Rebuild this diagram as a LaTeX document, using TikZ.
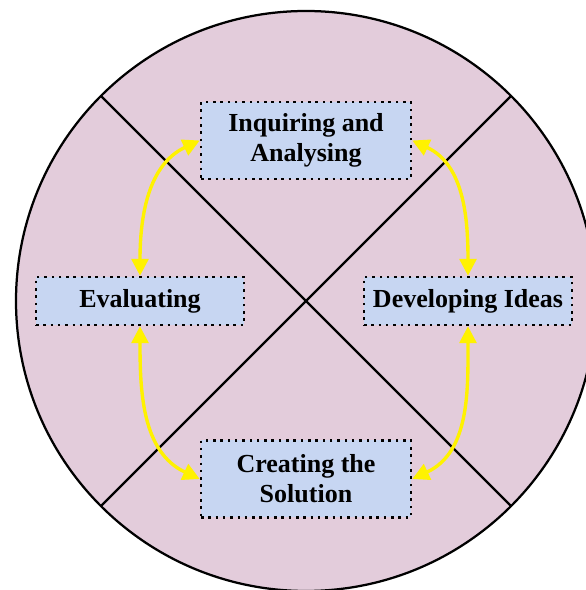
\documentclass[tikz,border=0pt]{standalone}
\usepackage{fontspec}
\setmainfont{Liberation Serif}
\usetikzlibrary{arrows.meta,calc}

\definecolor{wheelpink}{RGB}{227,204,219}
\definecolor{stageblue}{RGB}{199,214,242}

\tikzset{
  stage/.style={draw, fill=stageblue, line width=1.8pt,
    dash pattern=on 1.8pt off 3.4pt, align=center,
    font=\fontsize{18.5}{21.5}\selectfont\bfseries},
  cycle/.style={draw=yellow, line width=2.4pt,
    {Triangle[length=12pt,width=12pt]}-{Triangle[length=12pt,width=12pt]}},
  spoke/.style={line width=1.6pt}
}

\begin{document}
\begin{tikzpicture}
\useasboundingbox (0,0) rectangle (14.625,14.75);
\coordinate (ctr) at (7.65,7.225);
\fill[wheelpink] (ctr) circle (7.25);
\draw[spoke] (ctr) circle (7.25);
\draw[spoke] ($(ctr)+(135:7.25)$) -- ($(ctr)+(-45:7.25)$);
\draw[spoke] ($(ctr)+(45:7.25)$) -- ($(ctr)+(-135:7.25)$);

\node[stage, minimum width=5.25cm, minimum height=1.925cm] (inq) at (7.65,11.2375) {Inquiring and\\Analysing};
\node[stage, minimum width=5.2cm, minimum height=1.2cm] (eval) at (3.5,7.225) {Evaluating};
\node[stage, minimum width=5.2cm, minimum height=1.2cm] (dev) at (11.7,7.225) {Developing Ideas};
\node[stage, minimum width=5.25cm, minimum height=1.925cm] (crea) at (7.65,2.775) {Creating the\\Solution};

\draw[cycle] (inq.west) to[out=-155, in=90] (eval.north);
\draw[cycle] (inq.east) to[out=-25, in=90] (dev.north);
\draw[cycle] (eval.south) to[out=-90, in=155] (crea.west);
\draw[cycle] (dev.south) to[out=-90, in=25] (crea.east);
\end{tikzpicture}
\end{document}
